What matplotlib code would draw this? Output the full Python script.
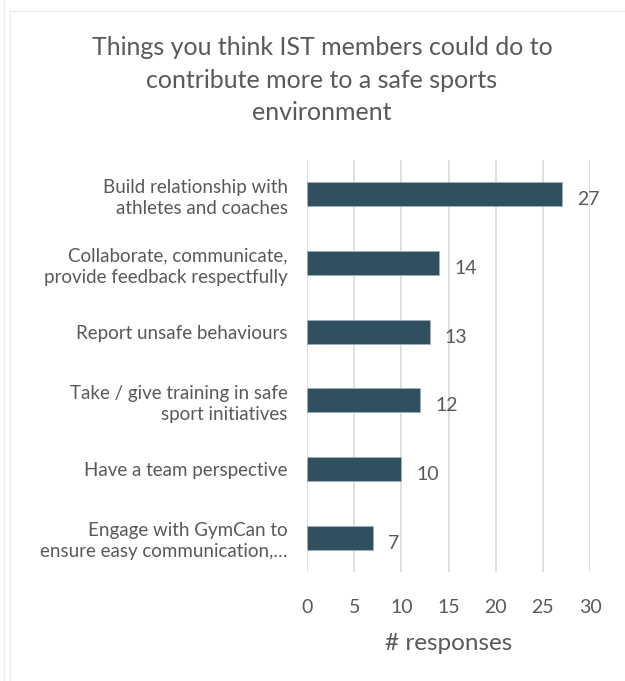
import matplotlib.pyplot as plt
from matplotlib.lines import Line2D

# survey answers, top to bottom
categories = [
    'Build relationship with\nathletes and coaches',
    'Collaborate, communicate,\nprovide feedback respectfully',
    'Report unsafe behaviours',
    'Take / give training in safe\nsport initiatives',
    'Have a team perspective',
    'Engage with GymCan to\nensure easy communication,…',
]
responses = [27, 14, 13, 12, 10, 7]
xticks = [0, 5, 10, 15, 20, 25, 30]

bar_color = '#31505f'
text_color = '#595959'
grid_color = '#d9d9d9'

plt.rcParams['font.family'] = ['Lato', 'DejaVu Sans']

fig = plt.figure(figsize=(6.25, 6.81), dpi=100)
ax = fig.add_axes([307 / 625, 1 - 572 / 681, 283 / 625, 412 / 681])

# faint panel borders
fig.add_artist(Line2D([3.5 / 625, 3.5 / 625], [0, 1], color='#ececec', lw=1))
fig.add_artist(Line2D([9.5 / 625, 9.5 / 625], [0, 1 - 10 / 681], color='#ececec', lw=1))
fig.add_artist(Line2D([9.5 / 625, 1], [1 - 10.5 / 681, 1 - 10.5 / 681], color='#ececec', lw=1))

ypos = list(range(len(categories)))
ax.barh(ypos, responses, height=0.35, color=bar_color, edgecolor='#9fb0bb', linewidth=0.6, zorder=3)
ax.set_ylim(len(categories) - 0.5, -0.5)
ax.set_xlim(0, 30)
ax.set_xticks(xticks)
ax.set_xticklabels([str(t) for t in xticks], fontsize=14, color=text_color)
ax.set_yticks(ypos)
ax.set_yticklabels(categories, fontsize=13.5, color=text_color, linespacing=1.3)
ax.tick_params(axis='both', length=0)
ax.tick_params(axis='x', pad=19.5)
ax.tick_params(axis='y', pad=14)
ax.grid(axis='x', color=grid_color, lw=1.2, zorder=0)
for s in ax.spines.values():
    s.set_visible(False)

# value labels to the right of each bar
for y, v in zip(ypos, responses):
    ax.annotate(str(v), (v, y), xytext=(11, -4), textcoords='offset points',
                ha='left', va='center', fontsize=14, color=text_color)

ax.set_xlabel('# responses', fontsize=17.5, color=text_color, labelpad=12)

fig.text(0.515, 1 - 80 / 681,
         'Things you think IST members could do to\ncontribute more to a safe sports\nenvironment',
         ha='center', va='center', fontsize=18, color=text_color, linespacing=1.5)

fig.savefig('out.png', dpi=100, facecolor='white')
